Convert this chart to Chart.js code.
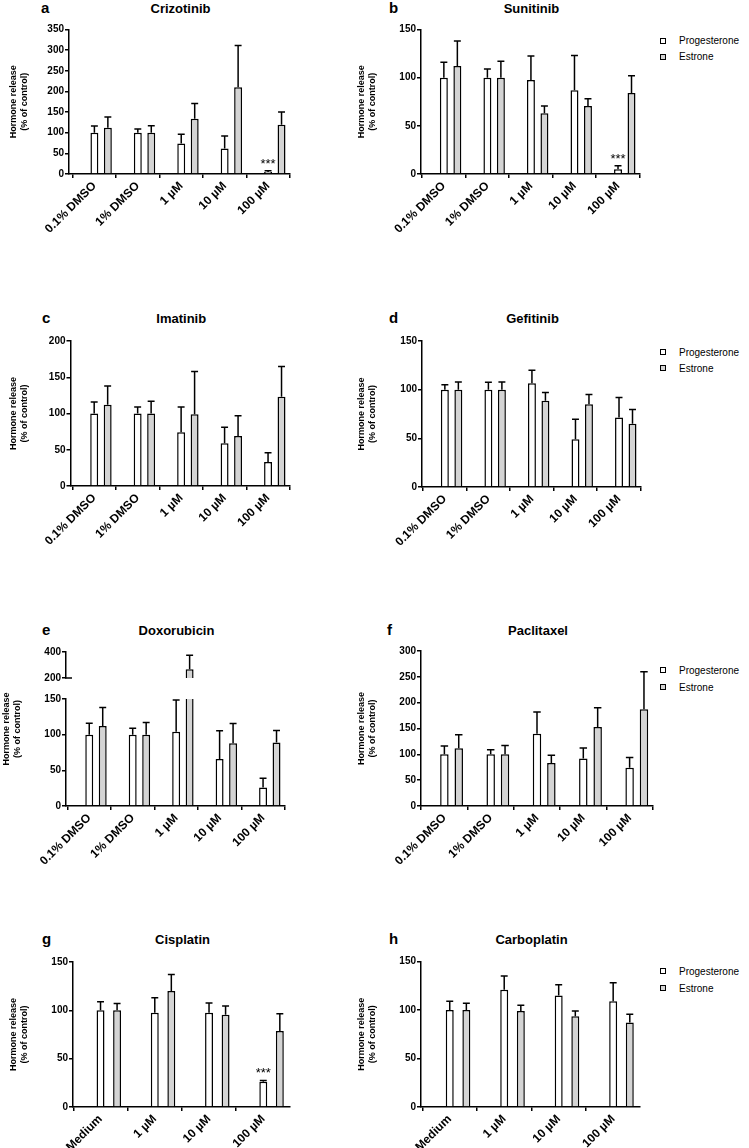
<!DOCTYPE html>
<html>
<head>
<meta charset="utf-8">
<script src="https://cdn.jsdelivr.net/npm/chart.js@4.4.1/dist/chart.umd.min.js"></script>
<style>
  html, body { margin: 0; padding: 0; background: #fff; }
  body { width: 749px; height: 1148px; position: relative; overflow: hidden;
         font-family: "Liberation Sans", Arial, Helvetica, sans-serif; color: #000; }
  canvas { position: absolute; }
  .letter { position: absolute; font-weight: bold; font-size: 15px; line-height: 15px; }
  .ptitle { position: absolute; font-weight: bold; font-size: 13px; line-height: 13px;
            white-space: nowrap; transform: translateX(-50%); }
  .leg { position: absolute; height: 12px; display: flex; align-items: center;
         font-size: 10px; white-space: nowrap; }
  .leg span { flex: none; width: 4px; height: 4px; border: 1.5px solid #000; margin-right: 13px; }
</style>
</head>
<body>
<script>
// categories
const doseLabels = ['0.1% DMSO', '1% DMSO', '1 µM', '10 µM', '100 µM'];
const platinLabels = ['Medium', '1 µM', '10 µM', '100 µM'];
const seriesNames = ['Progesterone', 'Estrone'];

// means and upper error (SD), % of control
const crizotinibProg = [100, 100, 74, 62, 5];
const crizotinibProgErr = [16, 9, 22, 30, 3];
const crizotinibEstr = [112, 100, 134, 210, 119];
const crizotinibEstrErr = [26, 17, 37, 101, 31];
const crizotinibStars = ['', '', '', '', '***'];

const sunitinibProg = [100, 100, 97.5, 87, 5];
const sunitinibProgErr = [16, 9, 25, 36, 3.5];
const sunitinibEstr = [112, 100, 63, 70.5, 84];
const sunitinibEstrErr = [26, 17, 7.5, 7.5, 18];
const sunitinibStars = ['', '', '', '', '***'];

const imatinibProg = [100, 100, 74, 59, 33];
const imatinibProgErr = [16, 9, 35, 22, 13];
const imatinibEstr = [112, 100, 99, 69, 123];
const imatinibEstrErr = [26, 17, 59, 28, 42];

const gefitinibProg = [100, 100, 106.5, 49, 71.5];
const gefitinibProgErr = [5, 7.5, 13.5, 20.5, 20.5];
const gefitinibEstr = [100, 100, 88.5, 85, 65];
const gefitinibEstrErr = [8, 8, 8.5, 10, 14.5];

const doxorubicinProg = [100, 100, 104, 66, 26];
const doxorubicinProgErr = [16, 9, 44.5, 39.5, 13];
const doxorubicinEstr = [112, 100, 268, 88, 89];
const doxorubicinEstrErr = [26, 17, 107, 27.5, 17];

const paclitaxelProg = [100, 100, 140, 92, 74];
const paclitaxelProgErr = [16, 9, 42, 20.5, 20];
const paclitaxelEstr = [112, 100, 83, 153, 187.5];
const paclitaxelEstrErr = [26, 17, 15, 37, 72.5];

const cisplatinProg = [100, 97.5, 97.5, 26];
const cisplatinProgErr = [9, 15.5, 10, 1.5];
const cisplatinEstr = [100, 120, 95.5, 78.5];
const cisplatinEstrErr = [7, 17, 9, 18];
const cisplatinStars = ['', '', '', '***'];

const carboplatinProg = [100, 121, 115, 109];
const carboplatinProgErr = [9, 14, 11, 19];
const carboplatinEstr = [100, 99, 93.5, 87];
const carboplatinEstrErr = [7, 6, 5.5, 8.5];

const yTitle = ['Hormone release', '(% of control)'];

const FONT = '"Liberation Sans", Arial, Helvetica, sans-serif';
const GRAY = '#d4d4d4';
Chart.defaults.font.family = FONT;
Chart.defaults.color = '#000';

// page placement of each plot area (pixels)
const panels = [
  { letter: 'a', title: 'Crizotinib', labels: doseLabels, prog: crizotinibProg, progErr: crizotinibProgErr,
    estr: crizotinibEstr, estrErr: crizotinibEstrErr, stars: crizotinibStars, yMax: 350, yStep: 50,
    plot: { l: 69, t: 29.5, r: 290, b: 174 }, xMin: -0.74, titleX: 14, base: 13, letterX: 41 },
  { letter: 'b', title: 'Sunitinib', labels: doseLabels, prog: sunitinibProg, progErr: sunitinibProgErr,
    estr: sunitinibEstr, estrErr: sunitinibEstrErr, stars: sunitinibStars, yMax: 150, yStep: 50,
    plot: { l: 421, t: 29.5, r: 640, b: 174 }, xMin: -0.68, titleX: 362, base: 13, letterX: 389, legend: [40.5, 56.5] },
  { letter: 'c', title: 'Imatinib', labels: doseLabels, prog: imatinibProg, progErr: imatinibProgErr,
    estr: imatinibEstr, estrErr: imatinibEstrErr, yMax: 200, yStep: 50,
    plot: { l: 70.5, t: 341, r: 290, b: 486 }, xMin: -0.70, titleX: 14, base: 323, letterX: 42 },
  { letter: 'd', title: 'Gefitinib', labels: doseLabels, prog: gefitinibProg, progErr: gefitinibProgErr,
    estr: gefitinibEstr, estrErr: gefitinibEstrErr, yMax: 150, yStep: 50,
    plot: { l: 422, t: 341, r: 641, b: 487 }, xMin: -0.68, titleX: 362, base: 323, letterX: 389, legend: [352, 368] },
  { letter: 'e', title: 'Doxorubicin', labels: doseLabels, prog: doxorubicinProg, progErr: doxorubicinProgErr,
    estr: doxorubicinEstr, estrErr: doxorubicinEstrErr, yMax: 150, yStep: 50,
    plot: { l: 66, t: 699, r: 285, b: 806 }, xMin: -0.69, titleX: 7, titleY: 729, base: 635, letterX: 42,
    upper: { t: 652, b: 682, min: 200, max: 400, step: 200 } },
  { letter: 'f', title: 'Paclitaxel', labels: doseLabels, prog: paclitaxelProg, progErr: paclitaxelProgErr,
    estr: paclitaxelEstr, estrErr: paclitaxelEstrErr, yMax: 300, yStep: 50,
    plot: { l: 421, t: 651, r: 653, b: 806 }, xMin: -0.66, titleX: 362, base: 634.5, letterX: 387, legend: [670, 687] },
  { letter: 'g', title: 'Cisplatin', labels: platinLabels, prog: cisplatinProg, progErr: cisplatinProgErr,
    estr: cisplatinEstr, estrErr: cisplatinEstrErr, stars: cisplatinStars, yMax: 150, yStep: 50,
    plot: { l: 73, t: 962, r: 290, b: 1107 }, xMin: -0.66, titleX: 14, base: 944, letterX: 42 },
  { letter: 'h', title: 'Carboplatin', labels: platinLabels, prog: carboplatinProg, progErr: carboplatinProgErr,
    estr: carboplatinEstr, estrErr: carboplatinEstrErr, yMax: 150, yStep: 50,
    plot: { l: 421, t: 961.5, r: 640, b: 1107 }, xMin: -0.68, titleX: 362, base: 943.5, letterX: 389, legend: [971, 988] }
];

// upward error bars with caps, plus significance stars
const errorBars = {
  id: 'errorBars',
  afterDatasetsDraw(chart) {
    const ctx = chart.ctx;
    const y = chart.scales.y;
    ctx.save();
    ctx.strokeStyle = '#000';
    ctx.fillStyle = '#000';
    ctx.lineWidth = 1.5;
    chart.data.datasets.forEach((ds, di) => {
      chart.getDatasetMeta(di).data.forEach((bar, i) => {
        const v = ds.data[i].y;
        if (v == null || v > y.max || v < y.min) return;
        const top = y.getPixelForValue(v + ds.err[i]);
        const half = bar.width / 2 - 0.5;
        ctx.beginPath();
        ctx.moveTo(bar.x, bar.y);
        ctx.lineTo(bar.x, top);
        ctx.moveTo(bar.x - half, top);
        ctx.lineTo(bar.x + half, top);
        ctx.stroke();
        if (ds.stars && ds.stars[i]) {
          ctx.font = '13px ' + FONT;
          ctx.textAlign = 'center';
          ctx.textBaseline = 'alphabetic';
          ctx.fillText(ds.stars[i], bar.x, top - 3);
        }
      });
    });
    ctx.restore();
  }
};

// y title placed by hand (used for the broken axis of panel e)
const freeTitle = {
  id: 'freeTitle',
  afterDraw(chart, args, o) {
    if (!o || !o.lines) return;
    const ctx = chart.ctx;
    ctx.save();
    ctx.font = 'bold 9px ' + FONT;
    ctx.fillStyle = '#000';
    ctx.textAlign = 'center';
    ctx.textBaseline = 'middle';
    o.lines.forEach((t, k) => {
      ctx.save();
      ctx.translate(o.x + k * o.lh, o.y);
      ctx.rotate(-Math.PI / 2);
      ctx.fillText(t, 0, 0);
      ctx.restore();
    });
    ctx.restore();
  }
};

// little break mark at the bottom of the upper segment
const breakMark = {
  id: 'breakMark',
  afterDraw(chart, args, o) {
    if (!o || !o.on) return;
    const ctx = chart.ctx;
    const a = chart.chartArea;
    ctx.save();
    ctx.strokeStyle = '#000';
    ctx.lineWidth = 1.5;
    ctx.beginPath();
    ctx.moveTo(a.left - 1, a.bottom);
    ctx.lineTo(a.left + 6, a.bottom);
    ctx.stroke();
    ctx.restore();
  }
};

const axisGrid = { display: true, drawOnChartArea: false, drawTicks: true, tickLength: 4, color: '#000', lineWidth: 1.5 };
const axisBorder = { display: true, color: '#000', width: 1.5 };

function makeChart(p, opt) {
  const plot = opt.plot;
  const cl = Math.floor(p.titleX - 8);
  const ct = Math.floor(plot.t - 10);
  const xh = opt.showX ? 80 : 4;
  const w = Math.ceil(plot.r + 6 - cl);
  const h = Math.ceil(plot.b + xh - ct);
  const canvas = document.createElement('canvas');
  canvas.width = w;
  canvas.height = h;
  canvas.style.left = cl + 'px';
  canvas.style.top = ct + 'px';
  document.body.appendChild(canvas);

  const n = p.labels.length;
  const cp = n === 5 ? 0.62 : 0.61;
  const bp = n === 5 ? 0.59 : 0.48;
  const shift = cp / 4;
  const xMax = n === 5 ? 4.35 : 3.34;
  const keep = opt.keep || (v => v);

  const datasets = [
    { label: seriesNames[0], data: p.prog.map((v, i) => ({ x: i, y: keep(v) })), err: p.progErr, stars: p.stars,
      backgroundColor: '#fff', borderColor: '#000', borderWidth: 1.5, categoryPercentage: cp, barPercentage: bp },
    { label: seriesNames[1], data: p.estr.map((v, i) => ({ x: i, y: keep(v) })), err: p.estrErr,
      backgroundColor: GRAY, borderColor: '#000', borderWidth: 1.5, categoryPercentage: cp, barPercentage: bp }
  ];

  return new Chart(canvas, {
    type: 'bar',
    data: { datasets },
    options: {
      responsive: false,
      animation: false,
      layout: { padding: { left: 0, top: plot.t - ct, right: cl + w - plot.r, bottom: opt.showX ? 0 : ct + h - plot.b } },
      plugins: {
        legend: { display: false },
        tooltip: { enabled: false },
        freeTitle: opt.freeTitle ? { lines: yTitle, x: p.titleX - cl, y: p.titleY - ct, lh: 11 } : {},
        breakMark: { on: !!opt.breakMark }
      },
      scales: {
        x: {
          type: 'linear', display: opt.showX, min: p.xMin, max: xMax, offset: false, bounds: 'data',
          afterBuildTicks: s => { s.ticks = p.labels.map((_, i) => ({ value: i - shift })); },
          ticks: { autoSkip: false, minRotation: 45, maxRotation: 45, padding: 1, color: '#000',
                   font: { size: 12, weight: 'bold' }, callback: v => p.labels[Math.round(v + shift)] },
          grid: axisGrid,
          border: axisBorder,
          afterFit: s => { s.height = xh; }
        },
        y: {
          min: opt.yMin, max: opt.yMax,
          ticks: { stepSize: opt.yStep, padding: 1, color: '#000', font: { size: 10, weight: 'bold' } },
          grid: axisGrid,
          border: axisBorder,
          title: { display: !!opt.axisTitle, text: yTitle, color: '#000',
                   font: { size: 9, weight: 'bold', lineHeight: 11 / 9 },
                   padding: { top: p.titleX - cl - 5.5, bottom: 0 } },
          afterFit: s => { s.width = plot.l - cl; }
        }
      }
    },
    plugins: [errorBars, freeTitle, breakMark]
  });
}

function addDiv(cls, text, left, top) {
  const d = document.createElement('div');
  d.className = cls;
  d.textContent = text;
  d.style.left = left + 'px';
  d.style.top = top + 'px';
  document.body.appendChild(d);
}

panels.forEach(p => {
  addDiv('letter', p.letter, p.letterX, p.base - 12.7);
  addDiv('ptitle', p.title, (p.plot.l + p.plot.r) / 2 + 1, p.base - 11);

  if (p.upper) {
    makeChart(p, { plot: { l: p.plot.l, t: p.upper.t, r: p.plot.r, b: p.upper.b }, showX: false,
                   yMin: p.upper.min, yMax: p.upper.max, yStep: p.upper.step, breakMark: true,
                   keep: v => (v > p.yMax ? v : null) });
    makeChart(p, { plot: p.plot, showX: true, yMin: 0, yMax: p.yMax, yStep: p.yStep, freeTitle: true });
  } else {
    makeChart(p, { plot: p.plot, showX: true, yMin: 0, yMax: p.yMax, yStep: p.yStep, axisTitle: true });
  }

  if (p.legend) {
    p.legend.forEach((cy, k) => {
      const row = document.createElement('div');
      row.className = 'leg';
      row.style.left = '660px';
      row.style.top = (cy - 6) + 'px';
      const sw = document.createElement('span');
      sw.style.background = k ? GRAY : '#fff';
      row.appendChild(sw);
      row.appendChild(document.createTextNode(seriesNames[k]));
      document.body.appendChild(row);
    });
  }
});
</script>
</body>
</html>
